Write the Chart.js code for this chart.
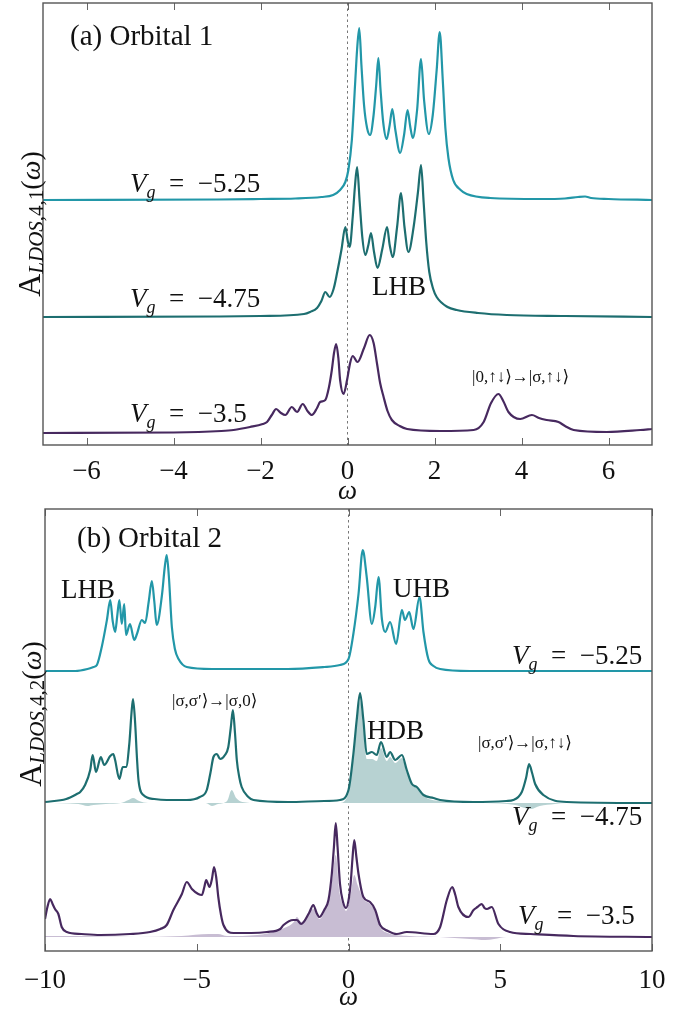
<!DOCTYPE html>
<html>
<head>
<meta charset="utf-8">
<script src="https://cdn.jsdelivr.net/npm/chart.js@4.4.1/dist/chart.umd.min.js"></script>
<style>
  html, body { margin: 0; padding: 0; background: #fff; }
  #wrapA { position: absolute; left: 0; top: 0;     width: 689px; height: 505px; }
  #wrapB { position: absolute; left: 0; top: 505px; width: 689px; height: 506px; }
</style>
</head>
<body>
<div id="wrapA"><canvas id="chartA"></canvas></div>
<div id="wrapB"><canvas id="chartB"></canvas></div>
<script>
// ── 1. DATA ──────────────────────────────────────────────────
// [omega, A(omega)] pairs (A in arbitrary units)
const xTicksA = [-6, -4, -2, 0, 2, 4, 6];
const xTicksB = [-10, -5, 0, 5, 10];
const gateLabels = ["−5.25", "−4.75", "−3.5"];

// (a) Orbital 1
const a525 = [[-7,0],[-3,0.005],[-2,0.01],[-1.2,0.015],[-0.6,0.03],[-0.33,0.05],[-0.17,0.1],[-0.05,0.18],
  [0.02,0.3],[0.1,0.6],[0.18,1.2],[0.22,1.5],[0.27,1.72],[0.32,1.35],[0.38,0.95],[0.45,0.72],[0.52,0.65],
  [0.6,0.85],[0.66,1.15],[0.71,1.42],[0.76,1.1],[0.82,0.78],[0.9,0.61],[0.97,0.75],[1.03,0.91],[1.1,0.7],
  [1.21,0.47],[1.3,0.65],[1.38,0.9],[1.44,0.74],[1.5,0.62],[1.6,0.9],[1.69,1.41],[1.76,1.0],[1.87,0.66],
  [1.96,0.85],[2.05,1.3],[2.12,1.68],[2.19,1.2],[2.25,0.72],[2.32,0.42],[2.43,0.2],[2.6,0.1],[2.74,0.06],
  [3.28,0.02],[4.43,0.01],[5.0,0.015],[5.3,0.03],[5.46,0.035],[5.6,0.02],[6,0.01],[7,0]];
const a475 = [[-7,0],[-3,0.005],[-2,0.01],[-1.0,0.03],[-0.86,0.05],[-0.7,0.09],[-0.6,0.16],[-0.51,0.25],
  [-0.41,0.2],[-0.32,0.28],[-0.24,0.44],[-0.14,0.67],[-0.05,0.9],[0.01,0.75],[0.05,0.7],[0.12,1.0],[0.17,1.3],
  [0.22,1.5],[0.28,1.15],[0.34,0.8],[0.41,0.62],[0.48,0.72],[0.54,0.84],[0.61,0.65],[0.69,0.49],[0.8,0.68],
  [0.91,0.9],[0.97,0.72],[1.04,0.6],[1.14,0.9],[1.23,1.24],[1.31,0.9],[1.40,0.65],[1.52,0.9],[1.62,1.25],
  [1.69,1.52],[1.75,1.15],[1.81,0.75],[1.88,0.45],[1.97,0.28],[2.05,0.2],[2.3,0.1],[2.51,0.07],[3.0,0.04],
  [3.66,0.02],[5,0.01],[7,0]];
const a35 = [[-7,0],[-4,0.005],[-2.9,0.02],[-2.62,0.03],[-2.24,0.06],[-1.95,0.09],[-1.85,0.11],[-1.74,0.18],
  [-1.64,0.24],[-1.53,0.2],[-1.43,0.18],[-1.28,0.26],[-1.16,0.21],[-1.03,0.29],[-0.92,0.22],[-0.82,0.18],
  [-0.7,0.25],[-0.63,0.31],[-0.51,0.33],[-0.43,0.45],[-0.36,0.63],[-0.31,0.8],[-0.26,0.89],[-0.21,0.75],
  [-0.17,0.53],[-0.09,0.39],[-0.01,0.53],[0.06,0.7],[0.12,0.77],[0.23,0.71],[0.38,0.85],[0.51,0.98],
  [0.6,0.9],[0.68,0.69],[0.75,0.5],[0.83,0.36],[0.92,0.22],[1.02,0.13],[1.2,0.07],[1.37,0.04],[2.13,0.02],
  [2.9,0.03],[3.13,0.11],[3.3,0.3],[3.47,0.39],[3.58,0.32],[3.70,0.21],[3.97,0.14],[4.24,0.18],[4.4,0.15],
  [4.58,0.13],[4.85,0.11],[5.0,0.07],[5.2,0.03],[5.96,0.01],[6.73,0.03],[7,0.04]];

// (b) Orbital 2
const b525 = [[-10,0],[-9,0],[-8.6,0.02],[-8.4,0.04],[-8.29,0.06],[-8.13,0.24],[-7.96,0.51],[-7.85,0.71],
  [-7.77,0.5],[-7.69,0.39],[-7.62,0.55],[-7.55,0.71],[-7.47,0.47],[-7.39,0.67],[-7.33,0.36],[-7.2,0.47],
  [-7.06,0.31],[-6.97,0.37],[-6.81,0.51],[-6.70,0.48],[-6.58,0.7],[-6.48,0.9],[-6.40,0.7],[-6.32,0.46],
  [-6.15,0.75],[-6.05,1.05],[-5.99,1.16],[-5.92,0.95],[-5.82,0.44],[-5.72,0.22],[-5.6,0.12],[-5.33,0.04],
  [-4.5,0.02],[-2,0.02],[-0.8,0.04],[-0.28,0.06],[0,0.12],[0.16,0.37],[0.33,0.77],[0.47,1.21],[0.6,0.94],
  [0.77,0.47],[0.88,0.64],[0.99,0.94],[1.1,0.52],[1.21,0.39],[1.37,0.49],[1.57,0.27],[1.76,0.61],[1.86,0.51],
  [2.0,0.59],[2.14,0.42],[2.34,0.74],[2.47,0.39],[2.63,0.12],[2.8,0.05],[3.02,0.02],[4,0],[10,0]];
const b475 = [[-10,0.01],[-9.3,0.04],[-8.95,0.09],[-8.84,0.11],[-8.68,0.18],[-8.51,0.33],[-8.43,0.48],
  [-8.32,0.31],[-8.16,0.46],[-8.05,0.38],[-7.85,0.47],[-7.75,0.49],[-7.69,0.43],[-7.55,0.24],[-7.44,0.36],
  [-7.33,0.36],[-7.22,0.6],[-7.15,0.9],[-7.1,1.04],[-7.03,0.8],[-6.97,0.45],[-6.92,0.23],[-6.76,0.08],
  [-6.4,0.04],[-5.99,0.03],[-5.33,0.03],[-4.9,0.06],[-4.67,0.13],[-4.55,0.3],[-4.45,0.46],[-4.34,0.49],
  [-4.23,0.44],[-4.07,0.48],[-3.96,0.56],[-3.88,0.75],[-3.81,0.93],[-3.74,0.7],[-3.68,0.43],[-3.6,0.26],
  [-3.52,0.16],[-3.3,0.06],[-3.13,0.03],[-2,0.01],[-0.8,0.02],[-0.28,0.03],[0,0.13],[0.16,0.49],[0.27,0.83],
  [0.38,1.10],[0.49,0.83],[0.6,0.49],[0.77,0.51],[0.93,0.48],[1.07,0.61],[1.26,0.46],[1.37,0.51],[1.54,0.43],
  [1.76,0.48],[1.92,0.33],[2.09,0.19],[2.25,0.16],[2.47,0.08],[2.8,0.05],[3.02,0.03],[4.12,0.01],[5.2,0.02],
  [5.43,0.03],[5.71,0.11],[5.85,0.25],[5.95,0.39],[6.05,0.3],[6.15,0.19],[6.42,0.08],[7.19,0.01],[10,0]];
const b475fill = [[-10,0],[-8.9,-0.01],[-8.6,-0.03],[-8.4,-0.02],[-8.0,-0.01],[-7.5,0],[-7.25,0.03],
  [-7.1,0.05],[-6.9,0.02],[-6.6,0],[-4.7,0],[-4.5,-0.03],[-4.3,-0.01],[-4.0,0.02],[-3.85,0.13],[-3.7,0.05],
  [-3.5,0.01],[-3.0,0],[-0.3,0],[0,0.1],[0.16,0.45],[0.27,0.78],[0.38,1.02],[0.49,0.75],[0.6,0.44],
  [0.77,0.44],[0.93,0.42],[1.07,0.55],[1.26,0.42],[1.37,0.46],[1.54,0.4],[1.76,0.45],[1.92,0.31],
  [2.09,0.18],[2.25,0.15],[2.47,0.07],[3.0,0.02],[4.5,0],[5.5,-0.02],[5.8,-0.05],[6.0,-0.06],[6.3,-0.03],
  [6.8,-0.01],[7.2,0],[10,0]];
const b35 = [[-10,0.18],[-9.92,0.3],[-9.83,0.38],[-9.75,0.33],[-9.67,0.28],[-9.56,0.23],[-9.45,0.1],
  [-9.28,0.05],[-8.8,0.03],[-8.18,0.02],[-7.2,0.03],[-6.54,0.05],[-6.2,0.08],[-5.99,0.12],[-5.77,0.27],
  [-5.49,0.43],[-5.33,0.55],[-5.16,0.48],[-4.95,0.43],[-4.83,0.42],[-4.75,0.5],[-4.69,0.57],[-4.58,0.5],
  [-4.5,0.58],[-4.43,0.7],[-4.36,0.6],[-4.29,0.4],[-4.2,0.22],[-4.12,0.12],[-3.79,0.04],[-3.2,0.04],
  [-2.69,0.05],[-2.25,0.08],[-2.14,0.12],[-1.82,0.17],[-1.70,0.17],[-1.56,0.13],[-1.30,0.24],[-1.16,0.32],
  [-1.05,0.24],[-0.96,0.2],[-0.8,0.27],[-0.66,0.37],[-0.55,0.63],[-0.48,0.9],[-0.42,1.14],[-0.36,0.9],
  [-0.28,0.53],[-0.18,0.35],[-0.08,0.29],[0.02,0.4],[0.07,0.53],[0.13,0.78],[0.19,0.97],[0.26,0.8],
  [0.33,0.63],[0.49,0.4],[0.71,0.35],[0.88,0.27],[1.04,0.12],[1.3,0.06],[1.59,0.03],[1.92,0.05],[2.8,0.03],
  [3.02,0.1],[3.24,0.37],[3.42,0.5],[3.52,0.42],[3.62,0.3],[3.95,0.2],[4.12,0.27],[4.25,0.3],[4.39,0.33],
  [4.48,0.29],[4.56,0.28],[4.72,0.3],[4.94,0.13],[5.32,0.05],[6,0.03],[7.41,0.01],[10,0]];
const b35fill = [[-10,0.01],[-9,0.01],[-7,0],[-5.5,0.01],[-4.6,0.03],[-4.3,0.03],[-4.0,0.01],[-3,0.02],
  [-2.2,0.08],[-1.8,0.15],[-1.7,0.2],[-1.56,0.15],[-1.16,0.28],[-0.96,0.18],[-0.72,0.32],[-0.55,0.55],
  [-0.42,0.82],[-0.3,0.45],[-0.15,0.3],[-0.08,0.26],[0.07,0.42],[0.19,0.62],[0.3,0.52],[0.49,0.38],
  [0.71,0.33],[0.88,0.25],[1.04,0.1],[1.3,0.04],[2,0.01],[3,0],[3.5,-0.01],[4.0,-0.02],[4.5,-0.03],
  [4.8,-0.02],[5.2,0],[10,0]];

// vertical offsets of the stacked curves (plot units)
const offsetsA = [2.45, 1.28, 0.12];
const offsetsB = [2.80, 1.48, 0.14];

// ── 2. STYLE ─────────────────────────────────────────────────
const SERIF = '"Liberation Serif", "DejaVu Serif", serif';
const colors = ["#2297a8", "#1d6e70", "#47295f"];
const fillColors = [null, "#b7d2d2", "#c8bdd3"];

const toXY = (pts, off) => pts.map(([w, a]) => ({ x: w, y: a + off }));

function curve(pts, off, color) {
  return { data: toXY(pts, off), borderColor: color, borderWidth: 2.2, pointRadius: 0,
           cubicInterpolationMode: "monotone", fill: false, order: 1 };
}
function area(pts, off, color) {
  return { data: toXY(pts, off), borderWidth: 0, borderColor: color, backgroundColor: color,
           pointRadius: 0, cubicInterpolationMode: "monotone", fill: { value: off }, order: 2 };
}

// ── 3. DECORATION PLUGIN (frame, inner ticks, zero line, texts) ──
function rich(ctx, x, y, parts) {
  let cx = x;
  parts.forEach(([t, font, dy]) => {
    ctx.font = font;
    ctx.fillText(t, cx, y + (dy || 0));
    cx += ctx.measureText(t).width;
  });
  return cx - x;
}
function richWidth(ctx, parts) {
  let w = 0;
  parts.forEach(([t, font]) => { ctx.font = font; w += ctx.measureText(t).width; });
  return w;
}
const vg = (val) => [["V", "italic 27px " + SERIF], ["g", "italic 18px " + SERIF, 6],
                     ["\u2002=\u2002" + val, "27px " + SERIF]];
const big = (t, size) => [[t, (size || 27) + "px " + SERIF]];

function decor(cfg) {
  return {
    id: "decor",
    beforeDatasetsDraw(chart) {
      const { ctx, chartArea: a, scales: { x } } = chart;
      const x0 = x.getPixelForValue(0);
      ctx.save();
      ctx.strokeStyle = "#777";
      ctx.lineWidth = 1;
      ctx.setLineDash([2.5, 3]);
      ctx.beginPath();
      ctx.moveTo(x0, a.top);
      ctx.lineTo(x0, a.bottom);
      ctx.stroke();
      ctx.restore();
    },
    afterDraw(chart) {
      const { ctx, chartArea: a, scales: { x } } = chart;
      ctx.save();
      // inner tick marks
      ctx.strokeStyle = "#666";
      ctx.lineWidth = 1;
      cfg.ticks.forEach((v) => {
        const px = Math.round(x.getPixelForValue(v)) + 0.5;
        ctx.beginPath();
        ctx.moveTo(px, a.top); ctx.lineTo(px, a.top + 7);
        ctx.moveTo(px, a.bottom); ctx.lineTo(px, a.bottom - 7);
        ctx.stroke();
      });
      // frame
      ctx.strokeStyle = "#555";
      ctx.lineWidth = 1.4;
      ctx.strokeRect(a.left, a.top, a.right - a.left, a.bottom - a.top);

      ctx.fillStyle = "#111";
      ctx.textBaseline = "alphabetic";
      cfg.texts.forEach((t) => rich(ctx, t.x, t.y, t.parts));

      // rotated y-axis label
      const yl = [["A", "32px " + SERIF], ["LDOS", "italic 21px " + SERIF, 3],
                  [cfg.ysub, "21px " + SERIF, 3], ["(", "28px " + SERIF],
                  ["ω", "italic 28px " + SERIF], [")", "28px " + SERIF]];
      const w = richWidth(ctx, yl);
      ctx.translate(cfg.ylab.x, cfg.ylab.y);
      ctx.rotate(-Math.PI / 2);
      rich(ctx, -w / 2, 0, yl);
      ctx.restore();
    }
  };
}

// ── 4. CHART FACTORY ─────────────────────────────────────────
function makeChart(id, datasets, xmin, xmax, ticks, pad, tickPad, plugin) {
  return new Chart(document.getElementById(id), {
    type: "line",
    data: { datasets },
    options: {
      responsive: true,
      maintainAspectRatio: false,
      animation: false,
      layout: { padding: pad },
      plugins: { legend: { display: false }, tooltip: { enabled: false } },
      scales: {
        x: {
          type: "linear", min: xmin, max: xmax,
          afterBuildTicks: (s) => { s.ticks = ticks.map((v) => ({ value: v })); },
          afterFit: (s) => { s.height = 60; },
          grid: { display: false, drawTicks: false },
          border: { display: false },
          ticks: {
            autoSkip: false, maxRotation: 0, padding: tickPad, color: "#111",
            font: { family: SERIF, size: 27 },
            callback: (v) => (v < 0 ? "−" + Math.abs(v) : String(v))
          },
          title: { display: true, text: "ω", color: "#111", padding: { top: 0, bottom: 0 },
                   font: { family: SERIF, size: 27, style: "italic", lineHeight: 1 } }
        },
        y: { display: false, min: 0, max: 4.42 }
      }
    },
    plugins: [plugin]
  });
}

// ── 5. PANEL (a) ─────────────────────────────────────────────
const dsA = [a525, a475, a35].map((p, i) => curve(p, offsetsA[i], colors[i]));
makeChart("chartA", dsA, -7, 7, xTicksA, { left: 43, right: 37, top: 3, bottom: 0 }, 11, decor({
  ticks: xTicksA,
  ysub: ",4,1",
  ylab: { x: 40, y: 224 },
  texts: [
    { x: 70, y: 45, parts: big("(a) Orbital 1", 29) },
    { x: 130, y: 192, parts: vg(gateLabels[0]) },
    { x: 130, y: 307, parts: vg(gateLabels[1]) },
    { x: 130, y: 422, parts: vg(gateLabels[2]) },
    { x: 372, y: 295, parts: big("LHB") },
    { x: 472, y: 382, parts: big("|0,↑↓⟩→|σ,↑↓⟩", 17) }
  ]
}));

// ── 6. PANEL (b) ─────────────────────────────────────────────
const dsB = [
  area(b475fill, offsetsB[1], fillColors[1]),
  area(b35fill, offsetsB[2], fillColors[2]),
  ...[b525, b475, b35].map((p, i) => curve(p, offsetsB[i], colors[i]))
];
makeChart("chartB", dsB, -10, 10, xTicksB, { left: 45, right: 37, top: 4, bottom: 0 }, 14, decor({
  ticks: xTicksB,
  ysub: ",4,2",
  ylab: { x: 41, y: 209 },
  texts: [
    { x: 77, y: 42, parts: big("(b) Orbital 2", 29) },
    { x: 61, y: 93, parts: big("LHB") },
    { x: 393, y: 92, parts: big("UHB") },
    { x: 512, y: 159, parts: vg(gateLabels[0]) },
    { x: 172, y: 201, parts: big("|σ,σ′⟩→|σ,0⟩", 17) },
    { x: 367, y: 234, parts: big("HDB") },
    { x: 478, y: 243, parts: big("|σ,σ′⟩→|σ,↑↓⟩", 17) },
    { x: 512, y: 320, parts: vg(gateLabels[1]) },
    { x: 518, y: 419, parts: vg(gateLabels[2]) }
  ]
}));
</script>
</body>
</html>
